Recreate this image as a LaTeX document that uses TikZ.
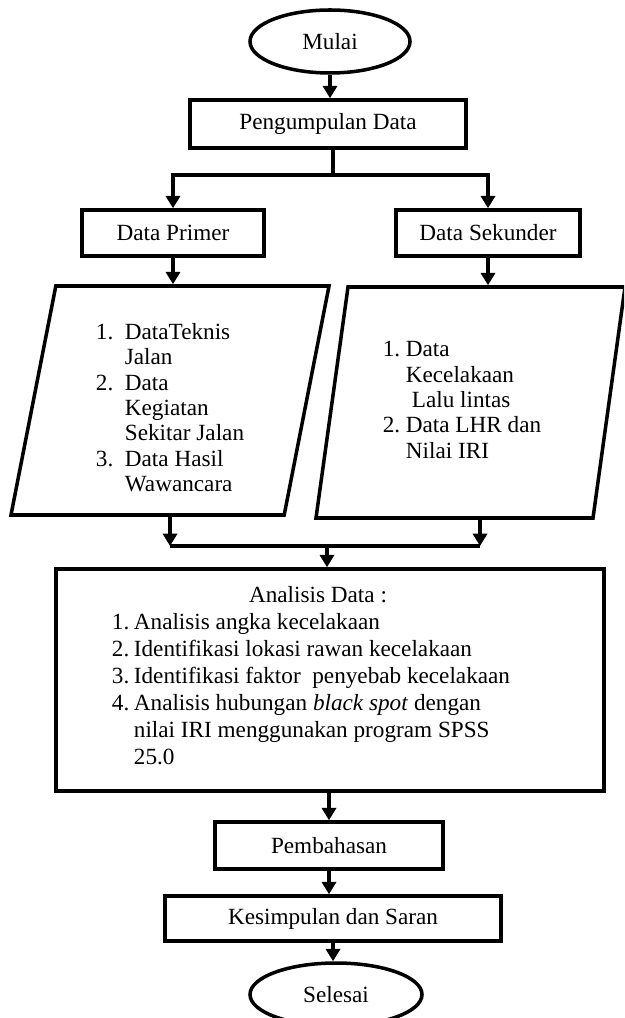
\documentclass[tikz,border=0pt]{standalone}
\usepackage{fontspec}
\setmainfont{Liberation Serif}
\usepackage{tikz}
\usetikzlibrary{positioning,shapes,arrows.meta}

\begin{document}
\begin{tikzpicture}[x=0.2cm,y=0.2cm]
\tikzstyle{every node}+=[inner sep=0pt,font=\fontsize{13.2}{15.4}\selectfont]
\tikzstyle{box}=[draw=black,line width=2pt,rectangle]
\tikzstyle{oval}=[draw=black,line width=2pt,ellipse]
\tikzstyle{io}=[draw=black,line width=2pt,trapezium,trapezium left angle=75.8,trapezium right angle=104.2,trapezium stretches body,font=\fontsize{13.2}{14.4}\selectfont]
\tikzstyle{arr}=[line width=2pt,-{Triangle[width=8pt,length=7pt]}]
\tikzstyle{ln}=[line width=2pt]
\clip (0,0) rectangle (62.4,-101.8);
% start and data collection
\node [oval,minimum width=3.2cm,minimum height=1.26cm] (mulai) at (33.0,-4.15) {Mulai};
\node [box,minimum width=5.52cm,minimum height=0.96cm] (kumpul) at (32.8,-12.4) {Pengumpulan Data};
\node [box,minimum width=3.64cm,minimum height=0.92cm] (primer) at (17.3,-23.3) {Data Primer};
\node [box,minimum width=3.68cm,minimum height=0.92cm] (sekunder) at (48.8,-23.3) {Data Sekunder};
% data lists
\node [io,minimum width=6.36cm,minimum height=4.58cm] (listprimer) at (17.0,-40.05) {%
\raisebox{-0.2cm}[\height][\depth]{\begin{tabular}{@{}l@{\hspace{6.6pt}}l@{}}
1. & DataTeknis\\
   & Jalan\\
2. & Data\\
   & Kegiatan\\
   & Sekitar Jalan\\
3. & Data Hasil\\
   & Wawancara
\end{tabular}}};
\node [io,minimum width=6.18cm,minimum height=4.62cm] (listsekunder) at (47.05,-40.25) {%
\hspace{-0.34cm}\begin{tabular}{@{}l@{\hspace{3.2pt}}l@{}}
1. & Data\\
   & Kecelakaan\\
   & \hspace{3.4pt}Lalu lintas\\
2. & Data LHR dan\\
   & Nilai IRI
\end{tabular}};
% analysis and end
\node [box,minimum width=10.96cm,minimum height=4.44cm] (analisis) at (33.0,-68.0) {%
\hspace{-0.76cm}\raisebox{0.04cm}[\height][\depth]{\begin{tabular}{@{}l@{\hspace{2.6pt}}l@{}}
\multicolumn{2}{c}{\hspace{8pt}Analisis Data :}\\
1. & Analisis angka kecelakaan\\
2. & Identifikasi lokasi rawan kecelakaan\\
3. & Identifikasi faktor\ \ penyebab kecelakaan\\
4. & Analisis hubungan \textit{black spot} dengan\\
   & nilai IRI menggunakan program SPSS\\
   & 25.0
\end{tabular}}};
\node [box,minimum width=4.56cm,minimum height=0.94cm] (bahas) at (32.9,-84.55) {Pembahasan};
\node [box,minimum width=6.72cm,minimum height=0.9cm] (simpul) at (33.3,-91.85) {Kesimpulan dan Saran};
\node [oval,minimum width=3.44cm,minimum height=1.26cm] (selesai) at (33.6,-99.45) {Selesai};
% connectors
\coordinate (cabang) at (33.3,-17.5);
\coordinate (gabung) at (32.7,-54.6);
\draw [arr] (mulai.south) -- (mulai.south |- kumpul.north);
\draw [ln] (kumpul.south -| cabang) -- (cabang);
\draw [arr] (cabang) -| (primer.north);
\draw [arr] (cabang) -| (sekunder.north);
\draw [arr] (primer.south) -- (primer.south |- listprimer.north);
\draw [arr] (sekunder.south) -- (sekunder.south |- listsekunder.north);
\draw [arr] (listprimer.south) -- (listprimer.south |- gabung);
\draw [arr] ([xshift=0.19cm]listsekunder.south) -- ([xshift=0.19cm]listsekunder.south |- gabung);
\draw [ln] (listprimer.south |- gabung) -- ([xshift=0.19cm]listsekunder.south |- gabung);
\draw [arr] (gabung) -- (gabung |- analisis.north);
\draw [arr] (analisis.south -| bahas) -- (bahas.north);
\draw [arr] (bahas.south) -- (bahas.south |- simpul.north);
\draw [arr] (simpul.south) -- (simpul.south |- selesai.north);
\end{tikzpicture}
\end{document}
